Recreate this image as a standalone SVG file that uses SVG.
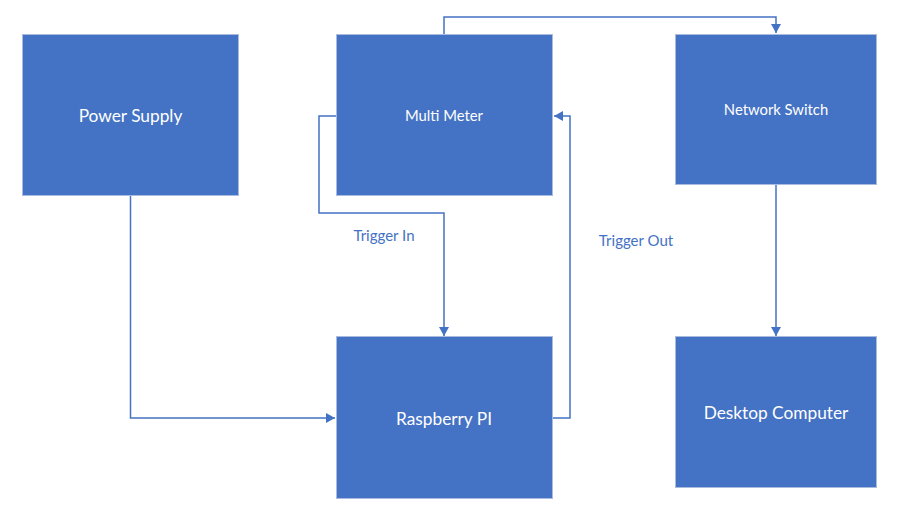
<svg xmlns="http://www.w3.org/2000/svg" width="902" height="522" viewBox="0 0 902 522">
<style>
.box{fill:#4472C4;stroke:#A9BCE0;stroke-width:1}
.t{font-family:Lato,"Open Sans","Liberation Sans",sans-serif;fill:#FFFFFF;text-anchor:middle;dominant-baseline:central}
.big{font-size:17.3px}
.sm{font-size:14.8px}
.lbl{font-family:Lato,"Open Sans","Liberation Sans",sans-serif;fill:#4472C4;font-size:15px;text-anchor:middle;dominant-baseline:central}
.c{fill:none;stroke:#4472C4;stroke-width:1.5}
</style>
<defs>
<marker id="arr" markerWidth="10" markerHeight="10" refX="9" refY="5" orient="auto" markerUnits="userSpaceOnUse">
<path d="M0,0 L9,5 L0,10 Z" fill="#4472C4"/>
</marker>
</defs>
<rect width="902" height="522" fill="#FFFFFF"/>
<g id="connectors">
<path class="c" d="M130.5,196 V418 H335" marker-end="url(#arr)"/>
<path class="c" d="M336,116 H319 V213 H444 V336" marker-end="url(#arr)"/>
<path class="c" d="M553,418 H570 V116 H554" marker-end="url(#arr)"/>
<path class="c" d="M444,34 V17 H776 V33" marker-end="url(#arr)"/>
<path class="c" d="M776,185 V336" marker-end="url(#arr)"/>
</g>
<g id="power-supply">
<rect class="box" x="22.5" y="34.5" width="216" height="161"/>
<text class="t big" x="130.5" y="115">Power Supply</text>
</g>
<g id="multi-meter">
<rect class="box" x="336.5" y="34.5" width="216" height="161"/>
<text class="t sm" x="444" y="115">Multi Meter</text>
</g>
<g id="network-switch">
<rect class="box" x="675.5" y="34.5" width="201" height="150"/>
<text class="t sm" x="776" y="109">Network Switch</text>
</g>
<g id="raspberry-pi">
<rect class="box" x="336.5" y="336.5" width="216" height="162"/>
<text class="t big" x="444" y="418">Raspberry PI</text>
</g>
<g id="desktop-computer">
<rect class="box" x="675.5" y="336.5" width="201" height="151"/>
<text class="t big" x="776" y="412">Desktop Computer</text>
</g>
<g id="labels">
<text class="lbl" x="384" y="235">Trigger In</text>
<text class="lbl" x="636" y="240">Trigger Out</text>
</g>
</svg>
